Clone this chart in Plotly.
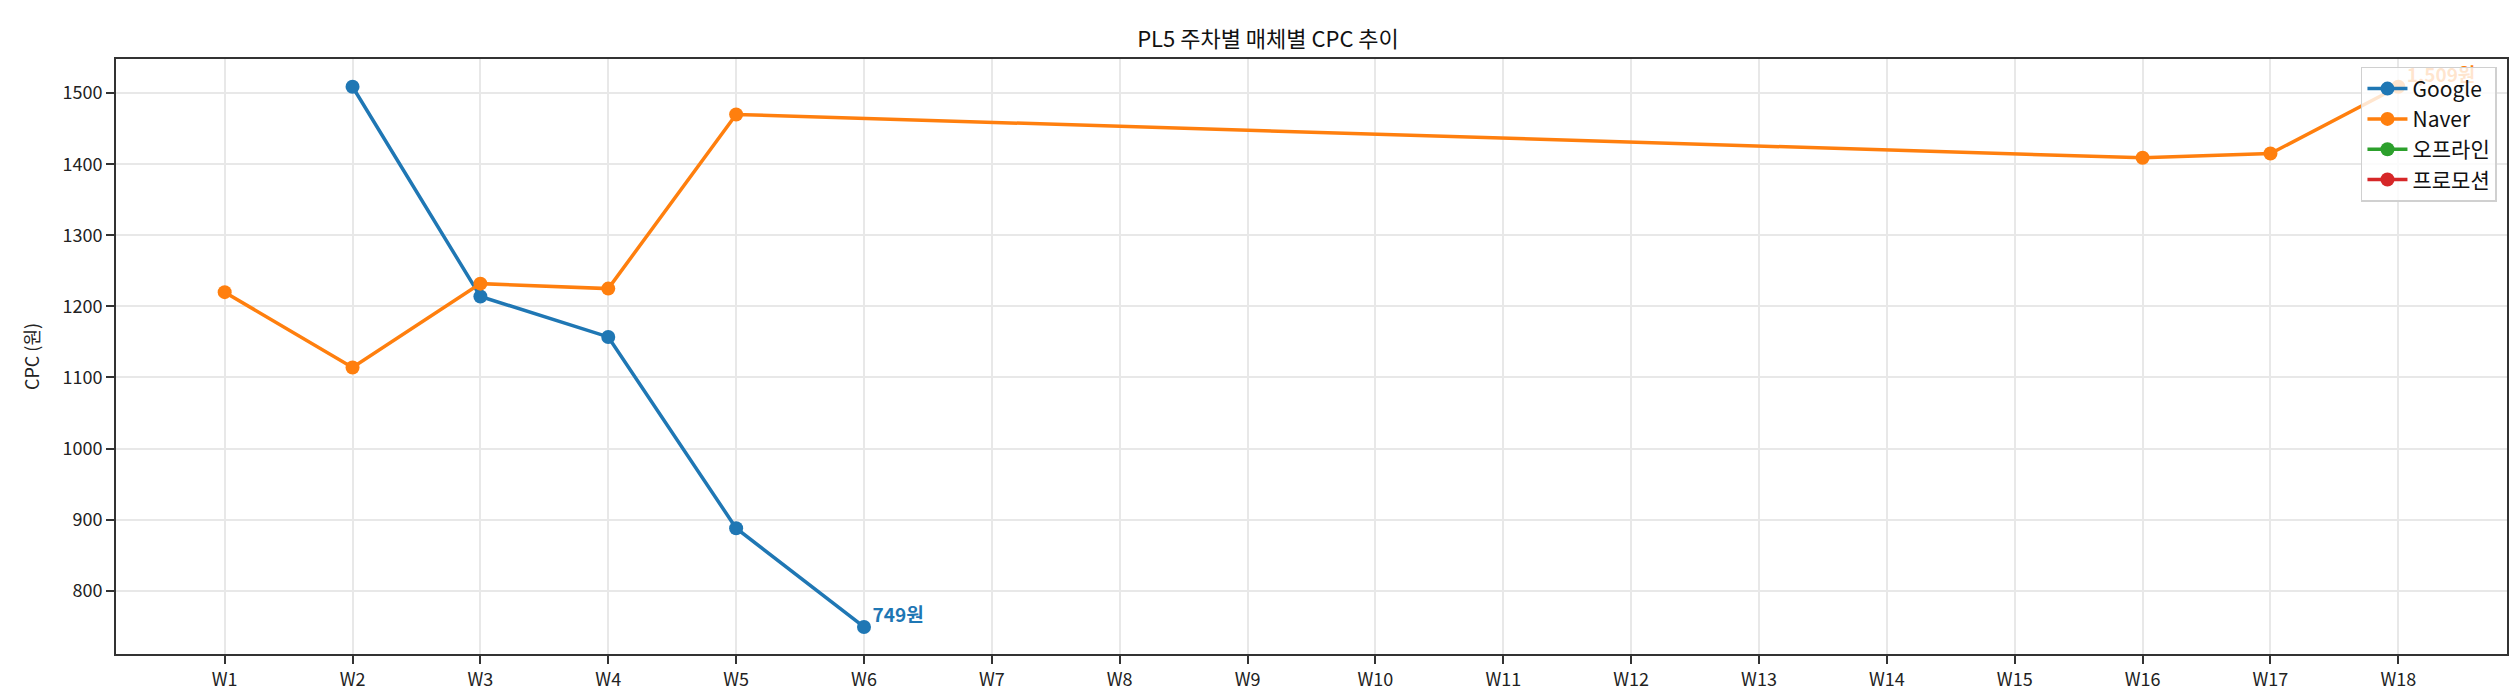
import plotly.graph_objects as go

# 주차 카테고리
weeks = [f"W{i}" for i in range(1, 19)]

# 매체별 CPC (원)
google_weeks = ["W2", "W3", "W4", "W5", "W6"]
google_cpc = [1509, 1214, 1157, 888, 749]

naver_weeks = ["W1", "W2", "W3", "W4", "W5", "W16", "W17", "W18"]
naver_cpc = [1220, 1114, 1232, 1225, 1470, 1409, 1415, 1509]

offline_weeks = []
offline_cpc = []
promo_weeks = []
promo_cpc = []

colors = {"Google": "#1f77b4", "Naver": "#ff7f0e", "오프라인": "#2ca02c", "프로모션": "#d62728"}
FONT = "Noto Sans CJK KR"

series = [
    ("Google", google_weeks, google_cpc),
    ("Naver", naver_weeks, naver_cpc),
    ("오프라인", offline_weeks, offline_cpc),
    ("프로모션", promo_weeks, promo_cpc),
]

fig = go.Figure()
for name, xs, ys in series:
    fig.add_trace(go.Scatter(
        x=xs if xs else [None],
        y=ys if ys else [None],
        mode="lines+markers",
        name=name,
        line=dict(color=colors[name], width=3.5),
        marker=dict(color=colors[name], size=14),
    ))

# 마지막 값 라벨 (범례 아래에 그려지도록 텍스트 트레이스로)
for name, xs, ys in series[:2]:
    fig.add_trace(go.Scatter(
        x=[xs[-1]], y=[ys[-1]],
        mode="text",
        text=[f"&nbsp;&nbsp;<b>{ys[-1]:,}원</b>"],
        textposition="top right",
        textfont=dict(family=FONT, size=19, color=colors[name]),
        showlegend=False,
        hoverinfo="skip",
        cliponaxis=False,
    ))

axis_common = dict(
    showline=True, linecolor="#333333", linewidth=2, mirror=True,
    ticks="outside", ticklen=8, tickwidth=2, tickcolor="#333333",
    showgrid=True, gridcolor="#e8e8e8", gridwidth=2,
    zeroline=False,
    tickfont=dict(family=FONT, size=18, color="#222222"),
)

fig.update_layout(
    width=2520, height=700,
    paper_bgcolor="white", plot_bgcolor="white",
    margin=dict(l=108, r=21, t=51, b=54),
    title=dict(text="PL5 주차별 매체별 CPC 추이", x=0.5, xanchor="center",
               y=1 - 31 / 700, yanchor="middle",
               font=dict(family=FONT, size=22, color="#111111")),
    xaxis=dict(type="category", categoryorder="array", categoryarray=weeks,
               range=[-0.85, 17.85], **axis_common),
    yaxis=dict(range=[711, 1548], dtick=100,
               title=dict(text="CPC (원)", font=dict(family=FONT, size=18, color="#222222"), standoff=18),
               **axis_common),
    legend=dict(x=0.9958, y=0.9866, xanchor="right", yanchor="top",
                bgcolor="rgba(255,255,255,0.8)", bordercolor="#d0d0d0", borderwidth=1.5,
                font=dict(family=FONT, size=21, color="#111111"),
                tracegroupgap=0, itemwidth=40),
    showlegend=True,
)

fig.write_html("out.html")
